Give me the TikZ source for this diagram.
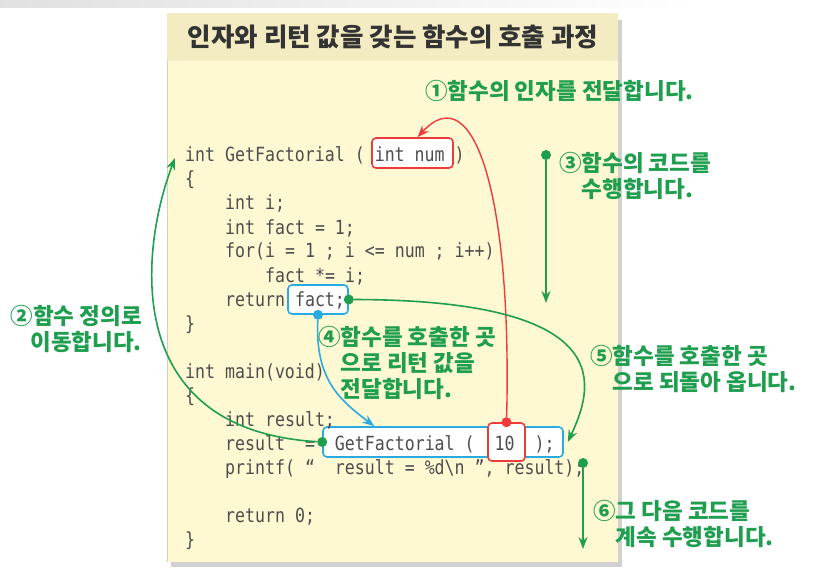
\documentclass[tikz,border=0pt]{standalone}
\usepackage{fontspec}
\usepackage{xcolor}
\usetikzlibrary{arrows.meta,positioning}
\newfontfamily\kor{Noto Sans CJK KR}
\newfontfamily\codefont[FakeStretch=0.85]{DejaVu Sans Mono}
\definecolor{fgreen}{HTML}{1E9E4E}
\definecolor{fred}{HTML}{EE3B3B}
\definecolor{fblue}{HTML}{29ABE2}
\definecolor{fcode}{HTML}{4D4D4D}
\definecolor{ftitle}{HTML}{333333}
\definecolor{fband}{HTML}{F3ECC2}
\definecolor{fpaper}{HTML}{FFF9D3}
\definecolor{fedge}{HTML}{C9D6B6}
\tikzset{
  cline/.style={anchor=base west, inner sep=0pt, text=fcode, font=\codefont\fontsize{19.5}{24}\selectfont},
  hbox/.style={draw=#1, fill=white, line width=1.6pt, rounded corners=4pt, inner sep=0pt},
  fnote/.style={inner sep=0pt, text=fgreen, align=left, anchor=base west, font=\kor\bfseries\fontsize{22.5}{26}\selectfont},
  fdot/.style={circle, fill=#1, inner sep=0pt, minimum size=10pt},
  farr/.style={-{Stealth[length=12pt,width=9pt]}, line width=1.6pt, draw=#1}
}

\begin{document}
\begin{tikzpicture}[x=1pt,y=-1pt]
\useasboundingbox (0,0) rectangle (829,577);
\shade[left color=black!12, right color=white] (0,0) rectangle (700,8);
\fill[black!18] (171,20) rectangle (622,567);
\fill[fpaper] (167,13) rectangle (618,562);
\fill[fband] (167,13) rectangle (618,61);
\draw[fedge, line width=0.8pt] (167,61) -- (167,562);
\node[anchor=base, inner sep=0pt, text=ftitle, font=\kor\bfseries\fontsize{25.5}{30}\selectfont] (title) at (393,47) {인자와 리턴 값을 갖는 함수의 호출 과정};

\node[hbox=fred, minimum width=81pt, minimum height=30pt] (argbox) at (412.5,153) {};
\node[hbox=fblue, minimum width=60pt, minimum height=29pt] (retbox) at (318,299.5) {};
\node[hbox=fblue, minimum width=240pt, minimum height=30pt] (callbox) at (443,442) {};
\node[hbox=fred, minimum width=37pt, minimum height=38pt] (valbox) at (506.5,442) {};

\node[cline] (c1) at (185,162) {int GetFactorial ( int num )};
\node[cline] (c2) at (185,186) {\{};
\node[cline] (c3) at (225,210) {int i;};
\node[cline] (c4) at (225,234) {int fact = 1;};
\node[cline] (c5) at (225,258) {for(i = 1 ; i <= num ; i++)};
\node[cline] (c6) at (265,282) {fact *= i;};
\node[cline] (c7) at (225,306) {return fact;};
\node[cline] (c8) at (185,330) {\}};
\node[cline] (c9) at (185,378) {int main(void)};
\node[cline] (c10) at (185,402) {\{};
\node[cline] (c11) at (225,426) {int result;};
\node[cline] (c12) at (225,450) {result\ \ =\ \ GetFactorial (\ \ 10\ \ );};
\node[cline] (c13) at (225,474) {printf( “\ \ result = \%d\textbackslash n ”, result);};
\node[cline] (c14) at (225,522) {return 0;};
\node[cline] (c15) at (185,546) {\}};

\node[fdot=fred] (d1) at (valbox.north) {};
\node[fdot=fgreen] (d2) at (callbox.west) {};
\node[fdot=fgreen] (d3) at (546,155) {};
\node[fdot=fblue] (d4) at (retbox.south) {};
\node[fdot=fgreen] (d5) at (retbox.east) {};
\node[fdot=fgreen] (d6) at (583,463) {};
\coordinate (fnhead) at (175,158);
\coordinate (e3) at (546,303);
\coordinate (e6) at (583,549);

\draw[farr=fred, line width=1.4pt] (d1) .. controls (512,200) and (475,75) .. ([xshift=5pt]argbox.north);
\draw[farr=fgreen] (d2) .. controls (120,430) and (140,250) .. (fnhead);
\draw[farr=fgreen] (d3) -- (e3);
\draw[farr=fblue] (d4) .. controls (315,380) and (340,400) .. ([xshift=52pt]callbox.north west);
\draw[farr=fgreen] (d5) .. controls (625,300) and (592,390) .. ([xshift=4pt]callbox.east);
\draw[farr=fgreen] (d6) -- (e6);

\node[fnote] (n1) at (425,100) {①함수의 인자를 전달합니다.};
\node[fnote, anchor=base east, align=right] (n2) at (142,350) {②함수 정의로\\이동합니다.};
\node[fnote] (n3) at (559,198) {③함수의 코드를\\\hphantom{③}수행합니다.};
\node[fnote] (n4) at (318,397) {④함수를 호출한 곳\\\hphantom{④}으로 리턴 값을\\\hphantom{④}전달합니다.};
\node[fnote] (n5) at (590,390) {⑤함수를 호출한 곳\\\hphantom{⑤}으로 되돌아 옵니다.};
\node[fnote] (n6) at (593,545) {⑥그 다음 코드를\\\hphantom{⑥}계속 수행합니다.};
\end{tikzpicture}
\end{document}
